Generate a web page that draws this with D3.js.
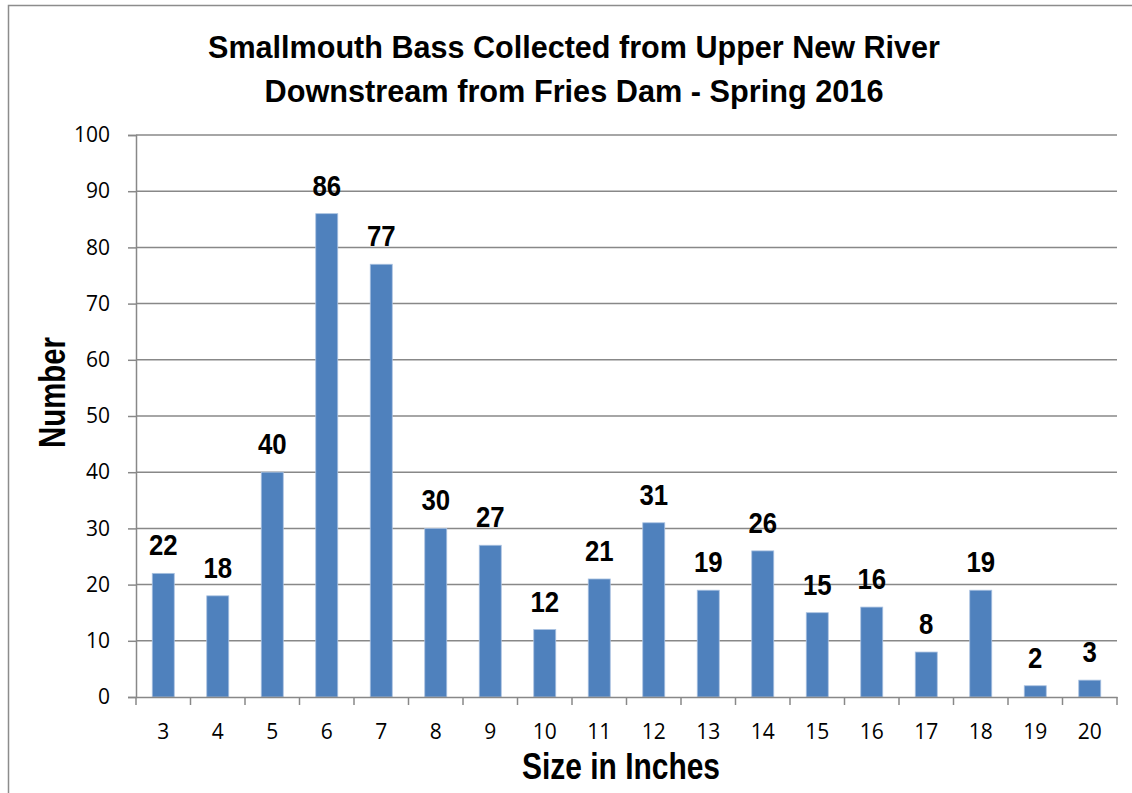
<!DOCTYPE html>
<html>
<head>
<meta charset="utf-8">
<script src="https://cdn.jsdelivr.net/npm/d3@7"></script>
<style>
  body { margin: 0; background: white; }
  .narrow { font-family: "Liberation Sans Narrow", "Arial Narrow", "Liberation Sans", sans-serif; font-weight: bold; fill: #000; }
</style>
</head>
<body>
<div id="chart"></div>
<script>
const sizes = [3, 4, 5, 6, 7, 8, 9, 10, 11, 12, 13, 14, 15, 16, 17, 18, 19, 20];
const counts = [22, 18, 40, 86, 77, 30, 27, 12, 21, 31, 19, 26, 15, 16, 8, 19, 2, 3];
const yTicks = [0, 10, 20, 30, 40, 50, 60, 70, 80, 90, 100];
const titleLines = ["Smallmouth Bass Collected from Upper New River", "Downstream from Fries Dam - Spring 2016"];

const width = 1132, height = 793;
const margin = { top: 135, right: 15, bottom: 96, left: 136 };
const innerW = 1117 - margin.left;
const innerH = 697 - margin.top;
const tickFont = '"Open Sans", "Noto Sans", sans-serif';

const svg = d3.select("#chart").append("svg")
    .attr("width", width)
    .attr("height", height);

// outer chart border
svg.append("rect")
    .attr("x", 8.5).attr("y", 5.5)
    .attr("width", 1140).attr("height", 800)
    .attr("fill", "none")
    .attr("stroke", "#8c8c8c")
    .attr("stroke-width", 1.5);

const g = svg.append("g").attr("transform", `translate(${margin.left},${margin.top})`);

const xb = d3.scaleBand().domain(sizes).range([0, innerW]);
const y = d3.scaleLinear().domain([0, 100]).range([innerH, 0]);

// gridlines
g.selectAll("line.grid")
    .data(yTicks.filter(d => d > 0))
    .enter().append("line")
    .attr("class", "grid")
    .attr("x1", 0).attr("x2", innerW)
    .attr("y1", d => y(d)).attr("y2", d => y(d))
    .attr("stroke", "#888").attr("stroke-width", 1.5);

// y axis
const yAxis = g.append("g")
    .call(d3.axisLeft(y).tickValues(yTicks).tickSize(8).tickPadding(18));
yAxis.select(".domain").attr("stroke", "#888").attr("stroke-width", 1.5);
yAxis.selectAll(".tick line").attr("stroke", "#888").attr("stroke-width", 1.5);
yAxis.selectAll(".tick text")
    .attr("font-family", tickFont).attr("font-size", 21).attr("fill", "#000");

// bars
g.selectAll("rect.bar")
    .data(sizes)
    .enter().append("rect")
    .attr("class", "bar")
    .attr("x", (d) => xb(d) + xb.bandwidth() / 2 - 11)
    .attr("width", 22)
    .attr("y", (d, i) => y(counts[i]))
    .attr("height", (d, i) => innerH - y(counts[i]))
    .attr("fill", "#4f81bd")
    .attr("stroke", "#a9c1e0")
    .attr("stroke-width", 0.8);

// x axis
const xAxis = g.append("g")
    .attr("transform", `translate(0,${innerH})`)
    .call(d3.axisBottom(xb).tickSize(0).tickPadding(27));
xAxis.select(".domain").attr("stroke", "#888").attr("stroke-width", 1.5);
xAxis.selectAll(".tick text")
    .attr("font-family", tickFont).attr("font-size", 21).attr("fill", "#000");

// x tick marks at band boundaries
g.selectAll("line.xtick")
    .data(sizes.concat([null]))
    .enter().append("line")
    .attr("class", "xtick")
    .attr("x1", (d, i) => i * xb.step()).attr("x2", (d, i) => i * xb.step())
    .attr("y1", innerH).attr("y2", innerH + 8)
    .attr("stroke", "#888").attr("stroke-width", 1.5);

// data labels (squeezed to look like a narrow face)
g.selectAll("text.lbl")
    .data(sizes)
    .enter().append("text")
    .attr("class", "lbl narrow")
    .attr("transform", (d, i) => `translate(${xb(d) + xb.bandwidth() / 2},${y(counts[i]) - 18}) scale(0.86,1)`)
    .attr("text-anchor", "middle")
    .attr("font-size", 30)
    .text((d, i) => counts[i]);

// title
const titleWidths = [732, 619];
svg.selectAll("text.title")
    .data(titleLines)
    .enter().append("text")
    .attr("class", "title narrow")
    .attr("x", (d, i) => 574 - titleWidths[i] / 2)
    .attr("y", (d, i) => 58 + i * 44)
    .attr("font-size", 32)
    .attr("textLength", (d, i) => titleWidths[i])
    .attr("lengthAdjust", "spacingAndGlyphs")
    .text(d => d);

// axis titles
svg.append("text")
    .attr("class", "narrow")
    .attr("transform", "translate(65,448) rotate(-90)")
    .attr("font-size", 36)
    .attr("textLength", 111)
    .attr("lengthAdjust", "spacingAndGlyphs")
    .text("Number");

svg.append("text")
    .attr("class", "narrow")
    .attr("x", 522).attr("y", 779)
    .attr("font-size", 36)
    .attr("textLength", 198)
    .attr("lengthAdjust", "spacingAndGlyphs")
    .text("Size in Inches");
</script>
</body>
</html>
